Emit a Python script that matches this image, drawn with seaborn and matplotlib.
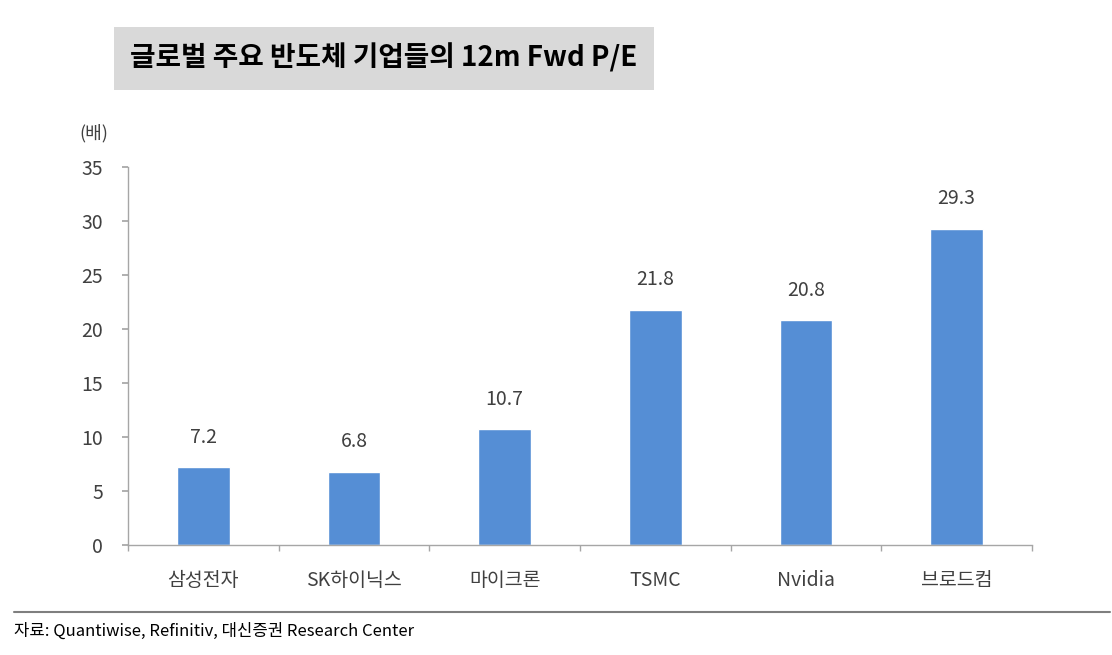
import matplotlib
matplotlib.use("Agg")
import matplotlib.pyplot as plt
import matplotlib.ticker as ticker
import numpy as np
import pandas as pd
import seaborn as sns

companies = ['삼성전자', 'SK하이닉스', '마이크론', 'TSMC', 'Nvidia', '브로드컴']
pe_values = [7.2, 6.8, 10.7, 21.8, 20.8, 29.3]
y_ticks = [0, 5, 10, 15, 20, 25, 30, 35]

title_text = '글로벌 주요 반도체 기업들의 12m Fwd P/E'
unit_text = '(배)'
source_text = '자료: Quantiwise, Refinitiv, 대신증권 Research Center'

data = pd.DataFrame({'company': companies, 'pe': pe_values})

sns.set_theme(style='white')
plt.rcParams['font.family'] = ['Noto Sans CJK KR', 'DejaVu Sans']

fig = plt.figure(figsize=(11.12, 6.55), dpi=100)
ax = fig.add_axes([0.1151, 0.168, 0.8129, 0.577])

sns.barplot(data=data, x='company', y='pe', color='#558ED5', saturation=1,
            width=0.35, ax=ax)

ax.set_ylim(0, 35)
ax.set_xlim(-0.5, len(companies) - 0.5)
ax.set_yticks(y_ticks)
ax.set(xlabel='', ylabel='')

for sp in ['top', 'right']:
    ax.spines[sp].set_visible(False)
for sp in ['left', 'bottom']:
    ax.spines[sp].set_color('#A6A6A6')
    ax.spines[sp].set_linewidth(1.0)

ax.tick_params(axis='y', which='major', left=True, length=4, color='#A6A6A6',
               labelsize=14, labelcolor='#404040', pad=14)
ax.tick_params(axis='x', which='major', bottom=False, labelsize=14,
               labelcolor='#404040', pad=12)
ax.xaxis.set_minor_locator(ticker.FixedLocator(np.arange(-0.5, len(companies), 1.0)))
ax.tick_params(axis='x', which='minor', bottom=True, length=4, color='#A6A6A6')

for i, v in enumerate(pe_values):
    ax.annotate(f'{v:.1f}', (i, v), xytext=(0, 14), textcoords='offset points',
                ha='center', va='bottom', fontsize=14, color='#404040')

# title box
fig.text(0.1172, 0.911, title_text, fontsize=20, fontweight='bold', color='black',
         va='center', ha='left',
         bbox=dict(boxstyle='square,pad=0.6', facecolor='#D9D9D9', edgecolor='none'))

fig.text(0.071, 0.797, unit_text, fontsize=13, color='#404040', va='center', ha='left')

# source line
fig.add_artist(plt.Line2D([0.0126, 0.998], [0.066, 0.066], color='#7F7F7F', lw=1.5))
fig.text(0.013, 0.037, source_text, fontsize=12, color='black', va='center', ha='left')

fig.savefig('out.png', dpi=100)
